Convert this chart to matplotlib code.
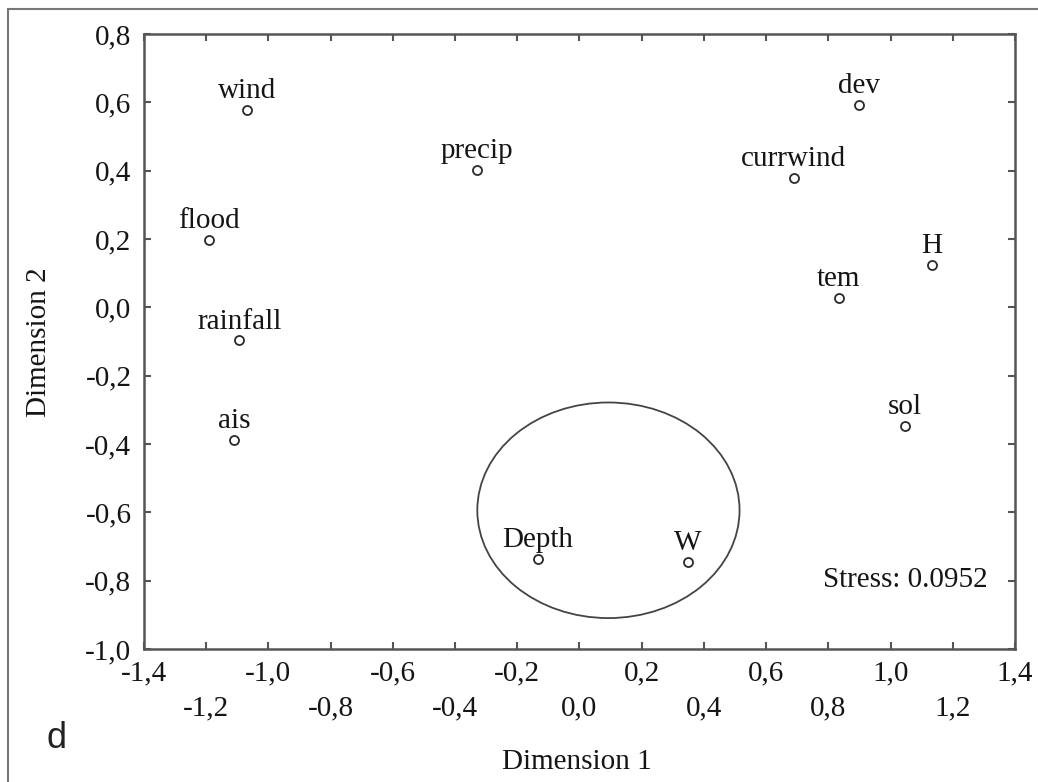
import matplotlib
matplotlib.use("Agg")
import matplotlib.pyplot as plt
from matplotlib.patches import Ellipse
from matplotlib.lines import Line2D

# ---- data ----
labels = ["wind", "flood", "rainfall", "ais", "precip", "dev", "currwind",
          "H", "tem", "sol", "Depth", "W"]
dim1 = [-1.068, -1.191, -1.094, -1.110, -0.331, 0.898, 0.689,
        1.133, 0.834, 1.046, -0.135, 0.348]
dim2 = [0.578, 0.198, -0.097, -0.389, 0.403, 0.593, 0.379,
        0.125, 0.028, -0.348, -0.737, -0.746]
xticks_row1 = [-1.4, -1.0, -0.6, -0.2, 0.2, 0.6, 1.0, 1.4]
xticks_row2 = [-1.2, -0.8, -0.4, 0.0, 0.4, 0.8, 1.2]
yticks = [0.8, 0.6, 0.4, 0.2, 0.0, -0.2, -0.4, -0.6, -0.8, -1.0]
stress = 0.0952
ellipse_center = (0.093, -0.594)
ellipse_size = (0.843, 0.631)

def fmt(v):
    return f"{v:.1f}".replace(".", ",")

W, H = 1038, 782
fig = plt.figure(figsize=(W / 100, H / 100), dpi=100)
serif = "Liberation Serif"
fs = 21
tc = "#151515"
sc = "#555555"

ax = fig.add_axes([144 / W, 1 - 649 / H, (1015 - 144) / W, (649 - 34) / H])
ax.set_xlim(-1.4, 1.4)
ax.set_ylim(-1.0, 0.8)

ax.plot(dim1, dim2, linestyle="none", marker="o", markersize=6.5,
        markerfacecolor="white", markeredgecolor="#2a2a2a", markeredgewidth=1.3)
for lab, x, y in zip(labels, dim1, dim2):
    ax.annotate(lab, (x, y), xytext=(0, 8.5), textcoords="offset points",
                ha="center", va="baseline", fontsize=fs, family=serif, color=tc)

ax.add_patch(Ellipse(ellipse_center, ellipse_size[0], ellipse_size[1],
                     fill=False, edgecolor="#444444", linewidth=1.3))

ax.text(0.968, 0.112, f"Stress: {stress}", transform=ax.transAxes,
        ha="right", va="center", fontsize=fs, family=serif, color=tc)

for s in ax.spines.values():
    s.set_color(sc)
    s.set_linewidth(1.8)

ax.set_xticks(xticks_row1)
ax.set_xticklabels([fmt(v) for v in xticks_row1])
ax.set_xticks(xticks_row2, minor=True)
ax.set_xticklabels([fmt(v) for v in xticks_row2], minor=True)
ax.set_yticks(yticks)
ax.set_yticklabels([fmt(v) for v in yticks])

ax.tick_params(axis="both", which="both", direction="in", length=5, width=1.5,
               color=sc, labelcolor=tc, labelsize=fs, top=True, right=True)
ax.tick_params(axis="x", which="major", pad=8.5)
ax.tick_params(axis="x", which="minor", pad=33.5)
ax.tick_params(axis="y", which="major", pad=9)
for t in ax.get_xticklabels(which="both") + ax.get_yticklabels():
    t.set_family(serif)

fig.text(577 / W, 1 - 762 / H, "Dimension 1", ha="center", va="center",
         fontsize=fs, family=serif, color=tc)
fig.text(39 / W, 1 - 342 / H, "Dimension 2", ha="center", va="center",
         rotation=90, fontsize=fs, family=serif, color=tc)
fig.text(57 / W, 1 - 738 / H, "d", ha="center", va="center",
         fontsize=26, family="Liberation Sans", color="#222222")

# outer frame (left and top edges)
fig.add_artist(Line2D([8 / W, 8 / W], [0, 1 - 9 / H], transform=fig.transFigure,
                      color="#777777", linewidth=1.5))
fig.add_artist(Line2D([8 / W, 1], [1 - 9 / H, 1 - 9 / H], transform=fig.transFigure,
                      color="#777777", linewidth=1.5))

fig.savefig("out.png", dpi=100)
